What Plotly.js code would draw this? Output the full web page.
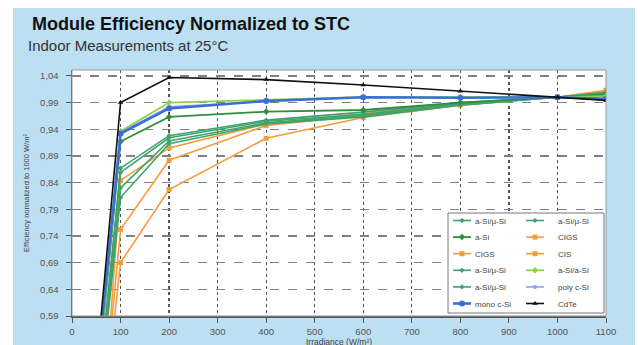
<!DOCTYPE html>
<html>
<head>
<meta charset="utf-8">
<script src="https://cdn.plot.ly/plotly-3.0.1.min.js"></script>
<style>
html,body{margin:0;padding:0;background:#ffffff;width:640px;height:345px;overflow:hidden;}
#chart{position:absolute;left:13px;top:8px;width:622px;height:345px;}
</style>
</head>
<body>
<div id="chart"></div>
<script>
// Irradiance levels (W/m²)
const irradiance = [50, 100, 200, 400, 600, 800, 1000, 1100];

// Series names (legend order)
const seriesNames = [
  "a-Si/µ-Si", "a-Si/µ-Si", "a-Si", "CIGS", "CIGS", "CIS",
  "a-Si/µ-Si", "a-Si/a-Si", "a-Si/µ-Si", "poly c-Si", "mono c-Si", "CdTe"
];

// Normalized efficiency values
const aSiMuSi1 = [0.405, 0.867, 0.928, 0.957, 0.972, 0.990, 1.000, 1.006];
const aSiMuSi2 = [0.410, 0.859, 0.924, 0.955, 0.968, 0.988, 1.000, 1.004];
const aSi      = [0.440, 0.917, 0.963, 0.973, 0.976, 0.990, 1.000, 1.005];
const cigs1    = [0.210, 0.844, 0.905, 0.950, 0.969, 0.988, 1.000, 1.012];
const cigs2    = [0.276, 0.752, 0.882, 0.947, 0.966, 0.986, 1.000, 1.010];
const cis      = [0.270, 0.690, 0.827, 0.923, 0.962, 0.985, 1.000, 1.013];
const aSiMuSi3 = [0.400, 0.830, 0.918, 0.952, 0.965, 0.986, 1.000, 1.008];
const aSiaSi   = [0.440, 0.936, 0.990, 0.995, 1.000, 1.000, 1.000, 1.002];
const aSiMuSi4 = [0.385, 0.812, 0.913, 0.950, 0.963, 0.985, 1.000, 1.009];
const polySi   = [0.460, 0.934, 0.982, 0.992, 1.000, 0.999, 1.000, 0.998];
const monoSi   = [0.470, 0.932, 0.979, 0.993, 1.000, 0.999, 1.000, 0.997];
const cdte     = [0.490, 0.990, 1.037, 1.033, 1.023, 1.011, 1.000, 0.994];

const seriesValues = [aSiMuSi1, aSiMuSi2, aSi, cigs1, cigs2, cis, aSiMuSi3, aSiaSi, aSiMuSi4, polySi, monoSi, cdte];

const yTicks = [0.59, 0.64, 0.69, 0.74, 0.79, 0.84, 0.89, 0.94, 0.99, 1.04];
const xTicks = [0, 100, 200, 300, 400, 500, 600, 700, 800, 900, 1000, 1100];

// styles
const GREEN = "#3ea36c", DKGREEN = "#2f8f3c", ORANGE = "#f59c3c", LTGREEN = "#8fd24e",
      LAV = "#8e9ff0", BLUE = "#3a6fd4", BLACK = "#111111";
const styles = [
  {c: GREEN, s: "diamond", sz: 4, w: 1.6},
  {c: GREEN, s: "diamond", sz: 4, w: 1.6},
  {c: DKGREEN, s: "diamond", sz: 5, w: 1.8},
  {c: ORANGE, s: "square", sz: 5, w: 1.6},
  {c: ORANGE, s: "square", sz: 5, w: 1.6},
  {c: ORANGE, s: "square", sz: 5, w: 1.6},
  {c: GREEN, s: "diamond", sz: 4, w: 1.6},
  {c: LTGREEN, s: "diamond", sz: 5, w: 1.8},
  {c: GREEN, s: "diamond", sz: 4, w: 1.6},
  {c: LAV, s: "circle", sz: 4, w: 1.6},
  {c: BLUE, s: "circle", sz: 6, w: 2.6},
  {c: BLACK, s: "triangle-up", sz: 5, w: 1.6}
];
// draw order: so that blue/black are on top
const drawOrder = [5, 4, 3, 8, 6, 1, 0, 2, 7, 9, 10, 11];

const traces = drawOrder.map(i => ({
  x: irradiance,
  y: seriesValues[i],
  name: seriesNames[i],
  type: "scatter",
  mode: "lines+markers",
  line: {color: styles[i].c, width: styles[i].w},
  marker: {color: styles[i].c, symbol: styles[i].s, size: styles[i].sz},
  legend: (i % 2 === 0) ? "legend" : "legend2",
  legendrank: i + 1
}));

const FONT = "Liberation Sans, Arial, Helvetica, sans-serif";
const BOX_TOP = 213;
const LEG_TOP = 206;

const layout = {
  width: 622, height: 345,
  margin: {l: 59, r: 29, t: 62, b: 37, autoexpand: false},
  paper_bgcolor: "#bcdff1",
  plot_bgcolor: "#ffffff",
  separators: ", ",
  font: {family: FONT, color: "#444", size: 9},
  title: {
    text: "<b>Module Efficiency Normalized to STC</b>",
    font: {family: FONT, size: 18, color: "#111"},
    xref: "container", yref: "container",
    x: 19/622, xanchor: "left",
    y: 1 - 9/345, yanchor: "top"
  },
  annotations: [{
    text: "Indoor Measurements at 25°C",
    xref: "paper", yref: "paper",
    x: -46/534, y: 1 + 14/246,
    xanchor: "left", yanchor: "bottom",
    showarrow: false,
    font: {family: FONT, size: 15, color: "#333"}
  }],
  xaxis: {
    range: [0, 1100],
    tickvals: xTicks,
    ticktext: xTicks.map(String),
    ticks: "outside", ticklen: 5, tickcolor: "#555",
    ticklabelstandoff: 1,
    showline: true, linecolor: "#555", linewidth: 1.5, mirror: false,
    showgrid: true, gridcolor: "#555", griddash: "dot", gridwidth: 1.2,
    zeroline: false,
    automargin: false,
    tickfont: {family: FONT, size: 9.5, color: "#555"},
    title: {text: "Irradiance (W/m²)", font: {family: FONT, size: 8.5, color: "#444"}, standoff: 2}
  },
  yaxis: {
    range: [0.59, 1.051],
    tickvals: yTicks,
    tickformat: ".2f",
    ticks: "outside", ticklen: 5, tickcolor: "#555",
    ticklabelstandoff: 5,
    showline: true, linecolor: "#555", linewidth: 1.5,
    showgrid: true, gridcolor: "#808080", griddash: "dash", gridwidth: 1.3,
    zeroline: false,
    automargin: false,
    tickfont: {family: FONT, size: 9.5, color: "#555"},
    title: {text: "Efficiency normalized to 1000 W/m²", font: {family: FONT, size: 7.5, color: "#444"}, standoff: 9}
  },
  shapes: [
    {type: "rect", xref: "paper", yref: "paper", x0: 0, x1: 1, y0: 0, y1: 1,
     line: {color: "#999", width: 1}, fillcolor: "rgba(0,0,0,0)", layer: "above"},
    {type: "rect", xref: "paper", yref: "paper",
     x0: (448-72)/534, x1: (604-72)/534, y0: 3/246, y1: (316-BOX_TOP)/246,
     line: {color: "#777", width: 1}, fillcolor: "#ffffff", layer: "above"}
  ],
  legend: {
    x: (445-72)/534, xanchor: "left", y: (316-LEG_TOP)/246, yanchor: "top",
    bgcolor: "rgba(0,0,0,0)", borderwidth: 0,
    font: {family: FONT, size: 8, color: "#444"},
    itemwidth: 30, tracegroupgap: 0, traceorder: "normal"
  },
  legend2: {
    x: (518-72)/534, xanchor: "left", y: (316-LEG_TOP)/246, yanchor: "top",
    bgcolor: "rgba(0,0,0,0)", borderwidth: 0,
    font: {family: FONT, size: 8, color: "#444"},
    itemwidth: 30, tracegroupgap: 0, traceorder: "normal"
  },
  showlegend: true
};

Plotly.newPlot("chart", traces, layout, {displayModeBar: false, staticPlot: true}).then(gd => {
  // tighten legend rows (~16.6px) and shorten the symbol sample, as in the reference
  const k = 16.6 / 19;
  const parse = el => {
    const m = /translate\(\s*([-\d.]+)[ ,]+([-\d.]+)\s*\)/.exec(el.getAttribute("transform") || "");
    return m ? [parseFloat(m[1]), parseFloat(m[2])] : null;
  };
  gd.querySelectorAll("g.legend, g.legend2, g[class^='legend']").forEach(leg => {
    const items = Array.from(leg.querySelectorAll("g.traces"));
    if (!items.length) return;
    const pos = items.map(parse).filter(Boolean);
    if (!pos.length) return;
    const y0 = Math.min.apply(null, pos.map(p => p[1]));
    items.forEach(el => {
      if (el.dataset.squeezed) return;
      const p = parse(el);
      if (p) {
        el.setAttribute("transform", "translate(" + p[0] + "," + (y0 + (p[1] - y0) * k) + ")");
      }
      try {
        el.querySelectorAll("path.js-line").forEach(ln => ln.setAttribute("d", "M8,0h18"));
        el.querySelectorAll("path.scatterpts").forEach(pt => pt.setAttribute("transform", "translate(17,0)"));
        el.querySelectorAll("text.legendtext").forEach(t => t.setAttribute("x", "30"));
      } catch (e) {}
      el.dataset.squeezed = "1";
    });
  });
});
</script>
</body>
</html>
